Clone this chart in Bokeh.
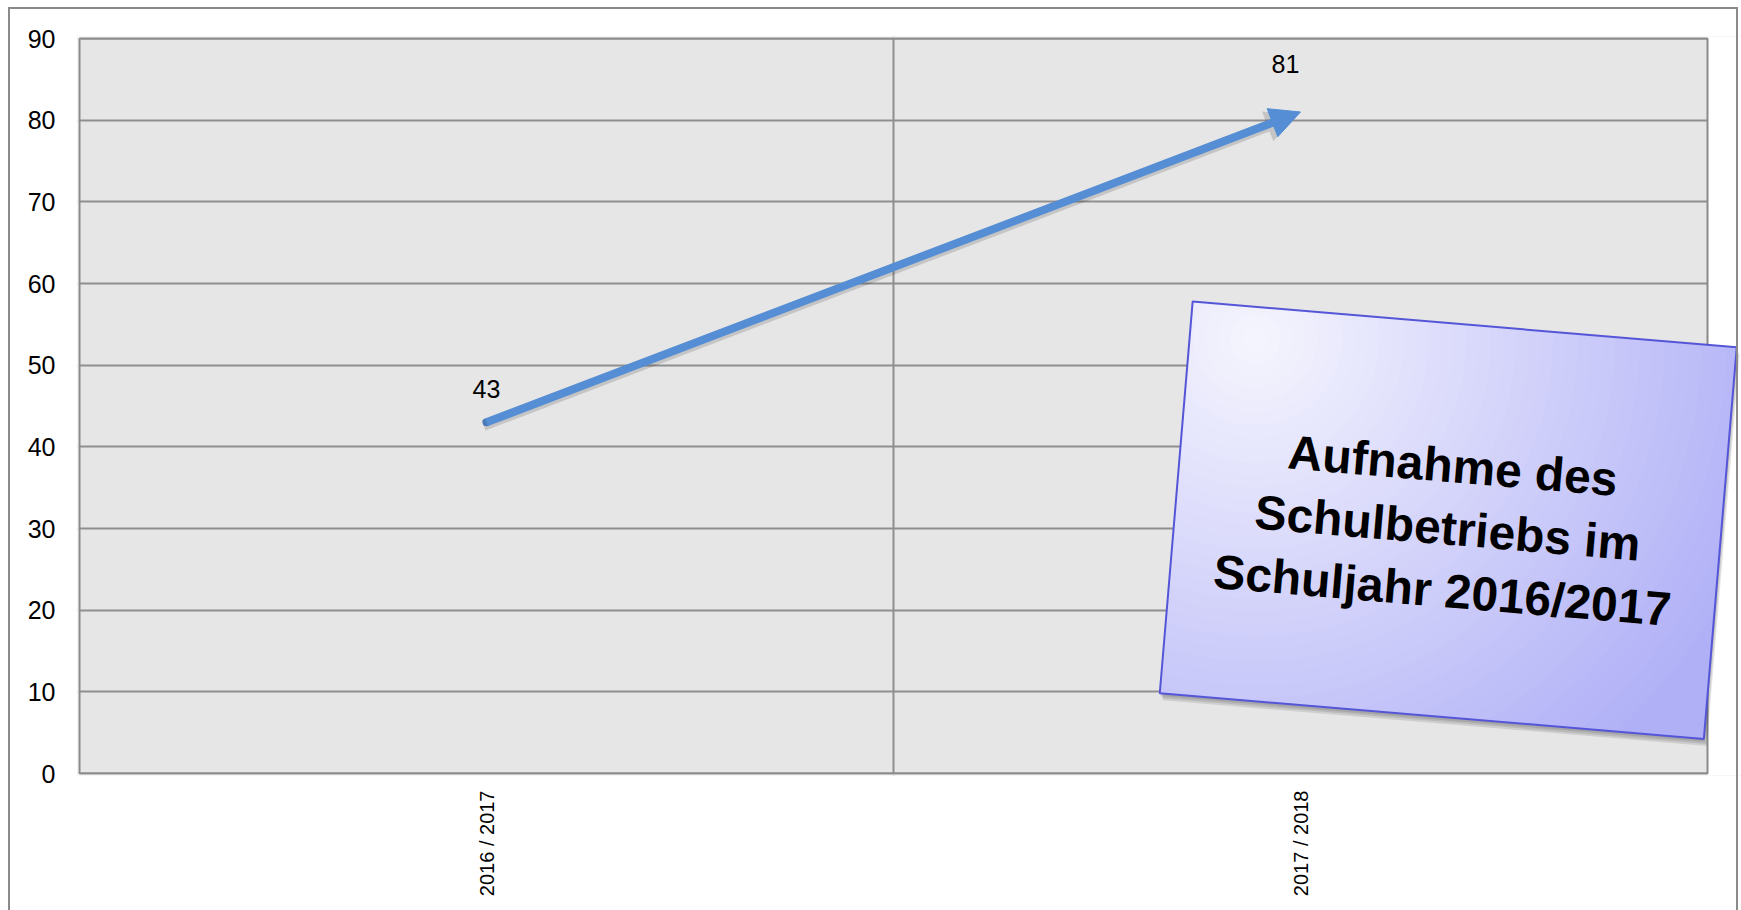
import math
from bokeh.plotting import figure
from bokeh.models import (Range1d, FixedTicker, Arrow, NormalHead, ColumnDataSource,
                          LabelSet, Label, PolyAnnotation, BoxAnnotation, Div)
from bokeh.layouts import column
from bokeh.core.properties import value
from bokeh.embed import file_html
from bokeh.resources import INLINE

# ---------------- data ----------------
categories = ["2016 / 2017", "2017 / 2018"]
values = [43, 81]
y_ticks = [0, 10, 20, 30, 40, 50, 60, 70, 80, 90]
note_lines = ["Aufnahme des", "Schulbetriebs im", "Schuljahr 2016/2017"]

# ---------------- geometry / style (page pixels) ----------------
FIG_W, FIG_H = 1741, 905
PLOT_L, PLOT_T, PLOT_W, PLOT_H = 79, 38, 1628, 735   # grey plot area
PAD = 2
FRAME_L, FRAME_T = PLOT_L - PAD, PLOT_T - PAD
FRAME_W = FIG_W - FRAME_L
FRAME_H = PLOT_H + 2 * PAD
BLUE = "#558ED5"
GRID = "#8f8f8f"
EDGE = "#8a8a8a"
FONT = "Liberation Sans"
n = len(categories)
Y_MAX = max(y_ticks)


def px2data(fx, fy):
    return ((fx - PLOT_L) / PLOT_W * n, (PLOT_T + PLOT_H - fy) / PLOT_H * Y_MAX)


def poly_px_to_data(pts):
    d = [px2data(x, y) for x, y in pts]
    return [a for a, _ in d], [b for _, b in d]


x0, y1 = px2data(FRAME_L, FRAME_T)
x1, y0 = px2data(FRAME_L + FRAME_W, FRAME_T + FRAME_H)

p = figure(frame_width=FRAME_W, frame_height=FRAME_H,
           x_range=Range1d(x0, x1), y_range=Range1d(y0, y1),
           output_backend="svg", toolbar_location=None,
           min_border_left=FRAME_L, min_border_top=FRAME_T,
           min_border_right=0,
           min_border_bottom=FIG_H - FRAME_T - FRAME_H)

p.background_fill_color = "#e6e6e6"
p.border_fill_color = "white"
p.outline_line_color = None

# y axis
ya = p.yaxis[0]
ya.ticker = FixedTicker(ticks=y_ticks)
ya.axis_line_color = None
ya.major_tick_line_color = None
ya.minor_tick_line_color = None
ya.major_tick_out = 0
ya.major_tick_in = 0
ya.major_label_standoff = 22
ya.major_label_text_font = FONT
ya.major_label_text_font_size = "25px"
ya.major_label_text_color = "black"

# x axis (categories at bin centres)
centers = [i + 0.5 for i in range(n)]
xa = p.xaxis[0]
xa.ticker = FixedTicker(ticks=centers)
xa.major_label_overrides = {c: lab for c, lab in zip(centers, categories)}
xa.axis_line_color = None
xa.major_tick_line_color = None
xa.minor_tick_line_color = None
xa.major_tick_out = 0
xa.major_tick_in = 0
xa.major_label_orientation = math.pi / 2
xa.major_label_standoff = 15
xa.major_label_text_font = FONT
xa.major_label_text_font_size = "20px"
xa.major_label_text_color = "black"

# grids
p.ygrid.ticker = FixedTicker(ticks=y_ticks)
p.ygrid.grid_line_color = GRID
p.ygrid.grid_line_width = 2
p.xgrid.ticker = FixedTicker(ticks=list(range(1, n)))
p.xgrid.grid_line_color = GRID
p.xgrid.grid_line_width = 2

# white outside the grey plot area (drawn above the grid lines)
for kw in (dict(left=n), dict(right=0), dict(bottom=Y_MAX), dict(top=0)):
    p.add_layout(BoxAnnotation(fill_color="white", fill_alpha=1, line_color=None,
                               level="underlay", **kw))
# plot-area border
p.add_layout(BoxAnnotation(left=0, right=n, bottom=0, top=Y_MAX, fill_alpha=0,
                           line_color=EDGE, line_alpha=1, line_width=2, level="underlay"))

# arrow shadow
sx_off = -3 / PLOT_W * n
sy_off = -3 / PLOT_H * Y_MAX
p.add_layout(Arrow(end=NormalHead(size=32, fill_color="black", fill_alpha=0.14, line_color=None),
                   x_start=centers[0] + sx_off, y_start=values[0] + sy_off,
                   x_end=centers[1] + sx_off, y_end=values[1] + sy_off,
                   line_color="black", line_alpha=0.14, line_width=11, line_cap="butt"))
# arrow
p.add_layout(Arrow(end=NormalHead(size=30, fill_color=BLUE, line_color=BLUE, line_width=1),
                   x_start=centers[0], y_start=values[0], x_end=centers[1], y_end=values[1],
                   line_color=BLUE, line_width=8, line_cap="butt"))
# rounded start of the arrow (first data point)
p.scatter(x=centers[:1], y=values[:1], size=8, marker="circle",
          fill_color=BLUE, line_color=None, level="annotation")

# value labels
lab_src = ColumnDataSource(dict(x=centers, y=values, text=[str(v) for v in values],
                                xoff=[0, -15], yoff=[33, 48]))
p.add_layout(LabelSet(x="x", y="y", text="text", source=lab_src, x_offset="xoff", y_offset="yoff",
                      text_align="center", text_baseline="middle", text_font=value(FONT),
                      text_font_size="25px", text_color="black"))

# ---------------- rotated note box ----------------
CX, CY = 1447.75, 519.75
BW, BH = 546, 393
TH = math.radians(4.8)
ux, uy = math.cos(TH), math.sin(TH)
vx, vy = -math.sin(TH), math.cos(TH)


def to_page(a, b, dx=0.0, dy=0.0):
    # a, b: local pixel coords from top-left corner of the box
    a -= BW / 2
    b -= BH / 2
    return (CX + a * ux + b * vx + dx, CY + a * uy + b * vy + dy)


RECT = [(0, 0), (BW, 0), (BW, BH), (0, BH)]


def clip(poly, a, b, c):   # keep a*x + b*y <= c
    out = []
    m = len(poly)
    for i in range(m):
        P, Q = poly[i], poly[(i + 1) % m]
        fp = a * P[0] + b * P[1] - c
        fq = a * Q[0] + b * Q[1] - c
        if fp <= 0:
            out.append(P)
        if (fp <= 0) != (fq <= 0):
            t = fp / (fp - fq)
            out.append((P[0] + t * (Q[0] - P[0]), P[1] + t * (Q[1] - P[1])))
    return out


def clip_rect(poly):
    for (a, b, c) in [(-1, 0, 0), (1, 0, BW), (0, -1, 0), (0, 1, BH)]:
        poly = clip(poly, a, b, c)
        if not poly:
            break
    return poly


def add_poly(local_pts, dx=0.0, dy=0.0, **kw):
    xs, ys = poly_px_to_data([to_page(a, b, dx, dy) for a, b in local_pts])
    p.add_layout(PolyAnnotation(xs=xs, ys=ys, **kw))


# shadow
for (dx, dy) in [(1, 3), (2, 5), (3, 7)]:
    add_poly(RECT, dx, dy, fill_color="black", fill_alpha=0.10, line_color=None)

# radial gradient: nested discs clipped to the box
C0 = (246, 246, 254)
C1 = (176, 176, 247)
GCX, GCY = 0.12 * BW, 0.08 * BH
R = 1.0 * BW
K = 44


def col(t):
    t = max(0.0, min(1.0, t))
    return "#%02x%02x%02x" % tuple(int(round(C0[k] + (C1[k] - C0[k]) * t)) for k in range(3))


add_poly(RECT, fill_color=col(1.0), fill_alpha=1, line_color=None)
for k in range(1, K):
    r = R * (1 - k / K)
    disc = [(GCX + r * math.cos(2 * math.pi * i / 96), GCY + r * math.sin(2 * math.pi * i / 96))
            for i in range(96)]
    piece = clip_rect(disc)
    if len(piece) >= 3:
        add_poly(piece, fill_color=col(r / R), fill_alpha=1, line_color=None)

# border
add_poly(RECT, fill_alpha=0, line_color="#5555d8", line_alpha=1, line_width=2)

# text
tx, ty = px2data(*to_page(0.5 * BW, 0.52 * BH))
p.add_layout(Label(x=tx, y=ty, text="\n".join(note_lines), angle=-TH,
                   text_align="center", text_baseline="middle", text_font=FONT,
                   text_font_style="bold", text_font_size="48px", text_color="black",
                   text_line_height=1.18))

# outer chart frame (left, top, right edges; bottom lies below the window)
frame_div = Div(text='<div style="position:fixed;left:8px;top:7px;width:1730px;height:1200px;'
                     'border:2px solid #8a8a8a;border-bottom:none;box-sizing:border-box;'
                     'pointer-events:none"></div>', width=0, height=0)

layout = column(p, frame_div)
open("out.html", "w").write(file_html(layout, INLINE))
